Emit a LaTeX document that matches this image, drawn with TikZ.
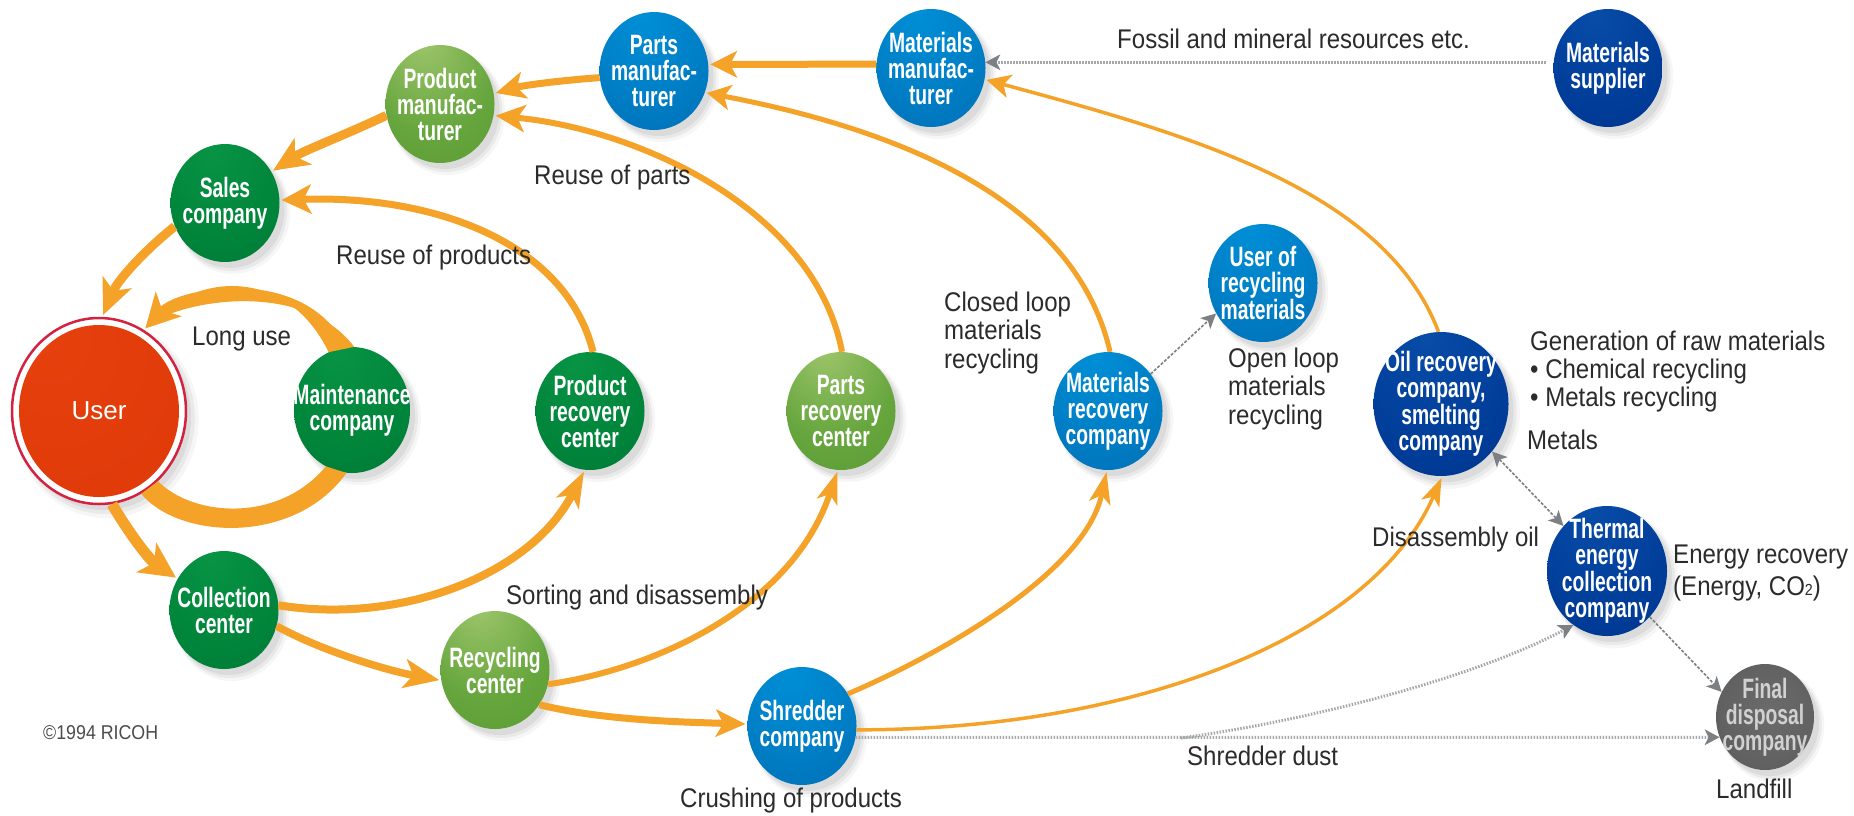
\documentclass[tikz,border=0pt]{standalone}
\usepackage{fontspec}
\setmainfont{Liberation Sans}
\newfontfamily\ballfont[FakeStretch=0.69]{Liberation Sans}
\newfontfamily\capfont[FakeStretch=0.89]{Liberation Sans}
\usetikzlibrary{arrows.meta,shapes.geometric,shadows}
\pgfdeclareradialshading{ballblue}{\pgfpoint{-6bp}{24bp}}{rgb(0bp)=(0.0,0.56,0.84);rgb(25bp)=(0.0,0.50,0.78);rgb(75bp)=(0.0,0.34,0.62)}
\pgfdeclareradialshading{ballnavy}{\pgfpoint{-6bp}{24bp}}{rgb(0bp)=(0.03,0.30,0.66);rgb(30bp)=(0.0,0.24,0.60);rgb(75bp)=(0.0,0.14,0.48)}
\pgfdeclareradialshading{ballgreen}{\pgfpoint{-6bp}{24bp}}{rgb(0bp)=(0.03,0.58,0.27);rgb(30bp)=(0.0,0.52,0.23);rgb(75bp)=(0.0,0.38,0.17)}
\pgfdeclareradialshading{balllight}{\pgfpoint{-8bp}{30bp}}{rgb(0bp)=(0.63,0.78,0.43);rgb(30bp)=(0.40,0.65,0.24);rgb(75bp)=(0.29,0.55,0.14)}
\pgfdeclareradialshading{ballgray}{\pgfpoint{3bp}{3bp}}{rgb(0bp)=(0.42,0.42,0.42);rgb(25bp)=(0.38,0.38,0.38);rgb(60bp)=(0.20,0.20,0.20)}
\pgfdeclareradialshading{ballred}{\pgfpoint{-18bp}{24bp}}{rgb(0bp)=(0.96,0.48,0.14);rgb(4bp)=(0.90,0.25,0.05);rgb(40bp)=(0.88,0.23,0.04);rgb(85bp)=(0.72,0.17,0.02)}
\definecolor{flow}{HTML}{F5A229}
\definecolor{ink}{HTML}{2B2B2B}
\definecolor{thin}{HTML}{7C8082}
\definecolor{dots}{HTML}{A4A8AA}
\definecolor{ring}{HTML}{D3223F}
\tikzset{
  softshadow/.style={
    general shadow={fill=black,opacity=.035,shadow xshift=7pt,shadow yshift=-8pt,shadow scale=1.06},
    general shadow={fill=black,opacity=.05,shadow xshift=6pt,shadow yshift=-7pt,shadow scale=1.03},
    general shadow={fill=black,opacity=.06,shadow xshift=5pt,shadow yshift=-6pt,shadow scale=1.0}},
  ball/.style={ellipse,inner sep=0pt,minimum width=109pt,minimum height=118pt,softshadow,shade},
  ballname/.style={text=white,align=center,inner sep=0pt,
    font=\ballfont\bfseries\fontsize{28}{26}\selectfont},
  bluec/.style={ball,shading=ballblue},
  navyc/.style={ball,shading=ballnavy},
  greenc/.style={ball,shading=ballgreen},
  lightc/.style={ball,shading=balllight},
  caption/.style={text=ink,anchor=west,inner sep=0pt,align=left,
    font=\capfont\fontsize{27}{28.5}\selectfont},
  orangearrow/.style n args={3}{draw=flow,line width=#1,
    -{Stealth[length=#2,width=#3,inset=.27*#2,fill=flow,line width=0pt]},shorten >=2pt},
  dotflow/.style={draw=dots,line width=3pt,dash pattern=on 1.5pt off 1.5pt,
    -{Stealth[length=15pt,width=16pt,inset=4pt,fill=thin,line width=0pt,sep=0pt]}},
  fineflow/.style={draw=thin,line width=1.6pt,dash pattern=on 3pt off 1.6pt,
    -{Stealth[length=15pt,width=15pt,inset=4pt,fill=thin,line width=0pt]}},
}
\begin{document}
\begin{tikzpicture}[x=1pt,y=-1pt]
\path[use as bounding box,fill=white] (0,0) rectangle (1854,815);

% company balls
\node[ellipse,inner sep=0pt,minimum width=174pt,minimum height=186pt,fill=white,draw=ring,line width=2.5pt,softshadow] (usr) at (99,411) {};
\node[ellipse,inner sep=0pt,minimum width=160pt,minimum height=172pt,shade,shading=ballred,
  label={[text=white,inner sep=0pt,font=\fontsize{26}{28}\selectfont]center:User}] (usrcore) at (usr) {};
\node[bluec,label={[ballname]center:Materials\\manufac-\\turer}] (mm) at (931,68) {};
\node[bluec,label={[ballname]center:Parts\\manufac-\\turer}] (pam) at (654,71) {};
\node[lightc,label={[ballname]center:Product\\manufac-\\turer}] (prm) at (440,104) {};
\node[greenc,label={[ballname]center:Sales\\company}] (sal) at (225,203) {};
\node[greenc,minimum width=116pt,minimum height=126pt,label={[ballname]center:Maintenance\\company}] (mnt) at (352,410) {};
\node[greenc,label={[ballname]center:Product\\recovery\\center}] (prc) at (590,411) {};
\node[lightc,label={[ballname]center:Parts\\recovery\\center}] (parc) at (841,411) {};
\node[navyc,label={[ballname]center:Materials\\supplier}] (msup) at (1608,68) {};
\node[bluec,label={[ballname]center:User of\\recycling\\materials}] (uor) at (1263,283) {};
\node[bluec,label={[ballname]center:Materials\\recovery\\company}] (mrc) at (1108,411) {};
\node[navyc,minimum width=135pt,minimum height=144pt,label={[ballname]center:Oil recovery\\company,\\smelting\\company}] (oil) at (1441,404) {};
\node[navyc,minimum width=120pt,minimum height=130pt,label={[ballname]center:Thermal\\energy\\collection\\company}] (thm) at (1607,571) {};
\node[ball,shading=ballgray,minimum width=98pt,minimum height=106pt,label={[ballname,text=black!18]center:Final\\disposal\\company}] (fin) at (1765,717) {};
\node[greenc,label={[ballname]center:Collection\\center}] (col) at (224,610) {};
\node[lightc,label={[ballname]center:Recycling\\center}] (rcy) at (495,670) {};
\node[bluec,label={[ballname]center:Shredder\\company}] (shr) at (802,726) {};

% product flows
\path[orangearrow={7pt}{27pt}{27pt}] (mm.176) -- (pam.7);
\path[orangearrow={7pt}{30pt}{28pt}] (pam.187) .. controls (565,80) and (525,85) .. (prm.11);
\path[orangearrow={9pt}{36pt}{32pt}] (prm.192.5) .. controls (345,135) and (305,150) .. (sal.34);
\path[orangearrow={9pt}{36pt}{32pt}] (sal.205.6) .. controls (145,250) and (118,280) .. (usr.88);
% long use: tapering loop between user and maintenance company
\path[orangearrow={8pt}{34pt}{36pt}] (mnt.99) .. controls (300,268) and (180,292) .. (usr.61);
\fill[flow] (mnt.112) .. controls (285,262) and (190,278) .. (160,318) .. controls (210,295) and (310,288) .. (mnt.88) -- cycle;
\fill[flow] (usr.310) .. controls (195,518) and (280,522) .. (mnt.245) -- (mnt.265) .. controls (295,545) and (180,540) .. (usr.297) -- cycle;
\path[orangearrow={11pt}{36pt}{36pt}] (usr.278) .. controls (130,535) and (150,560) .. (col.146);
\path[orangearrow={8pt}{36pt}{26pt}] (col.5) .. controls (400,625) and (530,575) .. (prc.265);
\path[orangearrow={7.5pt}{36pt}{30pt}] (col.343.5) .. controls (320,650) and (385,670) .. (rcy.191);
\path[orangearrow={6pt}{32pt}{22pt}] (rcy.345) .. controls (650,670) and (790,610) .. (parc.267);
\path[orangearrow={7pt}{30pt}{28pt}] (rcy.322) .. controls (600,720) and (680,722) .. (shr.178);
\path[orangearrow={5pt}{32pt}{22pt}] (shr.35.6) .. controls (950,650) and (1085,570) .. (mrc.269);
\path[orangearrow={3.5pt}{28pt}{20pt}] (shr.356) .. controls (1130,730) and (1370,640) .. (oil.271);
\path[orangearrow={5pt}{24pt}{26pt}] (mrc.88) .. controls (1075,200) and (900,130) .. (pam.337);
\path[orangearrow={6pt}{30pt}{28pt}] (parc.89) .. controls (815,210) and (640,130) .. (prm.348);
\path[orangearrow={7pt}{30pt}{30pt}] (prc.87) .. controls (565,240) and (430,195) .. (sal.3);
\path[orangearrow={3.5pt}{24pt}{24pt}] (oil.92) .. controls (1385,190) and (1190,135) .. (mm.348);

% thin grey flows
\coordinate (dustbranch) at (1181,738);
\path[dotflow,shorten <=8pt] (msup.174) -- (mm.6);
\path[fineflow] (mrc.41) -- (uor.213);
\path[fineflow,{Stealth[length=15pt,width=15pt,inset=4pt,fill=thin,line width=0pt]}-{Stealth[length=15pt,width=15pt,inset=4pt,fill=thin,line width=0pt]}] (oil.317) -- (thm.134);
\path[fineflow] (thm.313) -- (fin.150);
\path[dotflow] (shr.348) -- (fin.204);
\path[dotflow] (dustbranch) .. controls (1300,722) and (1470,680) .. (thm.238);

% captions
\node[caption] (tfossil) at (1117,39) {Fossil and mineral resources etc.};
\node[caption] (tparts) at (534,178) {Reuse of parts};
\node[caption] (tprod) at (336,258) {Reuse of products};
\node[caption] (tlong) at (192,339) {Long use};
\node[caption] (tclosed) at (944,333) {Closed loop\\materials\\recycling};
\node[caption] (topen) at (1228,389) {Open loop\\materials\\recycling};
\node[caption] (tgen) at (1530,372) {Generation of raw materials\\[-.5pt]\textbullet{} Chemical recycling\\[-.5pt]\textbullet{} Metals recycling};
\node[caption] (tmetals) at (1527,440) {Metals};
\node[caption] (tdis) at (1372,540) {Disassembly oil};
\node[caption] (tenergy) at (1673,573) {Energy recovery\\[4pt](Energy, CO{\fontsize{16}{16}\selectfont 2})};
\node[caption] (tland) at (1716,789) {Landfill};
\node[caption] (tdust) at (1187,756) {Shredder dust};
\node[caption] (tsort) at (506,598) {Sorting and disassembly};
\node[caption] (tcrush) at (680,801) {Crushing of products};
\node[caption,font=\capfont\fontsize{20}{20}\selectfont,text=black!70] (tcopy) at (43,733) {©1994 RICOH};
\end{tikzpicture}
\end{document}
